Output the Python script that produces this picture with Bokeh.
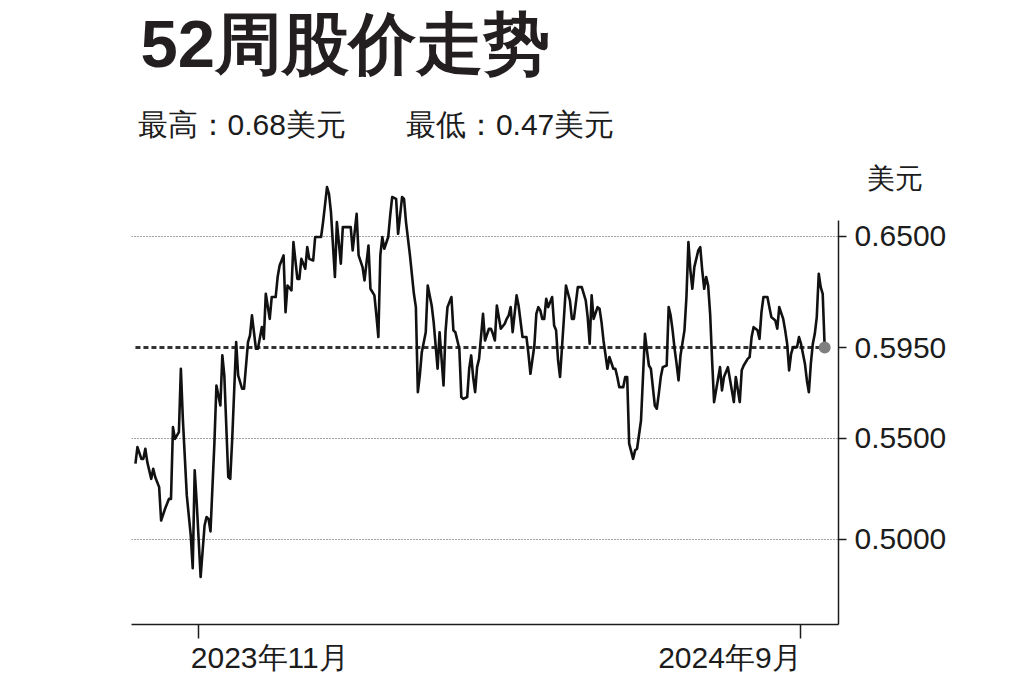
import pandas as pd
from bokeh.plotting import figure
from bokeh.models import Range1d, FixedTicker, NumeralTickFormatter, DatetimeAxis, Title
from bokeh.embed import file_html
from bokeh.resources import INLINE

# 52-week closing prices (day offset from start, USD)
start = pd.Timestamp("2023-09-30")
days = [
    0, 1, 3, 4, 5, 6, 8, 9, 10, 12, 13, 15, 17, 18, 19, 20, 22, 23, 24, 26,
    28, 29, 30, 31, 33, 35, 36, 37, 38, 40, 41, 43, 44, 45, 47, 48, 49, 51, 52, 54,
    55, 57, 58, 59, 61, 62, 64, 65, 66, 68, 69, 71, 72, 73, 75, 76, 77, 79, 80, 82,
    83, 84, 86, 87, 88, 90, 91, 93, 94, 95, 97, 98, 99, 101, 102, 104, 105, 106, 109, 110,
    112, 113, 115, 116, 118, 119, 121, 122, 123, 124, 125, 126, 128, 129, 130, 132, 133, 135, 136, 137,
    139, 141, 142, 143, 144, 145, 147, 148, 150, 151, 153, 154, 156, 157, 158, 160, 161, 162, 164, 165,
    166, 168, 169, 170, 171, 172, 173, 174, 176, 177, 179, 180, 181, 182, 183, 185, 187, 188, 189, 190,
    191, 193, 194, 196, 198, 199, 200, 202, 203, 204, 205, 206, 207, 208, 209, 211, 212, 213, 214, 215,
    217, 218, 220, 221, 222, 224, 226, 228, 229, 230, 231, 232, 234, 235, 236, 237, 239, 240, 242, 243,
    244, 245, 247, 248, 249, 250, 252, 253, 254, 256, 257, 258, 259, 260, 261, 263, 264, 265, 266, 267,
    269, 270, 271, 272, 273, 274, 275, 276, 278, 279, 280, 281, 282, 283, 285, 286, 287, 288, 289, 290,
    291, 292, 293, 295, 296, 297, 298, 300, 301, 303, 304, 306, 307, 308, 310, 311, 312, 313, 315, 316,
    317, 318, 320, 321, 322, 323, 324, 325, 326, 328, 329, 330, 331, 332, 333, 335, 336, 337, 339, 340,
    341, 342, 343, 344, 345, 346, 347, 348, 349,
]
price = [
    0.5375, 0.5457, 0.5399, 0.5399, 0.5449, 0.5383, 0.5300, 0.5350, 0.5309, 0.5259,
    0.5094, 0.5152, 0.5201, 0.5201, 0.5556, 0.5498, 0.5531, 0.5845, 0.5597, 0.5218,
    0.5020, 0.4858, 0.5342, 0.5185, 0.4814, 0.5069, 0.5111, 0.5102, 0.5040, 0.5482,
    0.5762, 0.5663, 0.5911, 0.5812, 0.5309, 0.5300, 0.5498, 0.5977, 0.5812, 0.5746,
    0.5746, 0.5977, 0.6010, 0.6109, 0.5944, 0.5944, 0.6051, 0.5993, 0.6216, 0.6092,
    0.6200, 0.6200, 0.6299, 0.6356, 0.6406, 0.6125, 0.6257, 0.6233, 0.6472, 0.6290,
    0.6290, 0.6389, 0.6340, 0.6447, 0.6389, 0.6381, 0.6497, 0.6497, 0.6497, 0.6571,
    0.6744, 0.6711, 0.6620, 0.6299, 0.6571, 0.6365, 0.6546, 0.6546, 0.6546, 0.6431,
    0.6612, 0.6406, 0.6348, 0.6282, 0.6455, 0.6241, 0.6208, 0.6109, 0.6002, 0.6406,
    0.6497, 0.6439, 0.6497, 0.6604, 0.6695, 0.6686, 0.6513, 0.6695, 0.6686, 0.6571,
    0.6406, 0.6216, 0.6150, 0.5729, 0.5812, 0.5927, 0.6026, 0.6257, 0.6158, 0.6076,
    0.5845, 0.6026, 0.5762, 0.6026, 0.6150, 0.6200, 0.6035, 0.6026, 0.5944, 0.5705,
    0.5696, 0.5705, 0.5845, 0.5911, 0.5804, 0.5729, 0.5853, 0.5894, 0.6117, 0.5985,
    0.6043, 0.6043, 0.6018, 0.5985, 0.6158, 0.6043, 0.6068, 0.6092, 0.6109, 0.6150,
    0.6026, 0.6208, 0.6158, 0.6002, 0.6002, 0.5919, 0.5820, 0.5960, 0.6117, 0.6150,
    0.6134, 0.6092, 0.6092, 0.6191, 0.6150, 0.6200, 0.6059, 0.6035, 0.5886, 0.5804,
    0.6101, 0.6257, 0.6183, 0.6092, 0.6092, 0.6249, 0.6249, 0.6183, 0.6101, 0.5969,
    0.6208, 0.6092, 0.6150, 0.6142, 0.6076, 0.5985, 0.5845, 0.5903, 0.5845, 0.5845,
    0.5804, 0.5754, 0.5754, 0.5804, 0.5804, 0.5474, 0.5399, 0.5441, 0.5449, 0.5589,
    0.5804, 0.6018, 0.5936, 0.5861, 0.5845, 0.5663, 0.5647, 0.5721, 0.5804, 0.5853,
    0.5861, 0.6150, 0.6109, 0.6035, 0.5944, 0.5870, 0.5787, 0.5911, 0.6035, 0.6200,
    0.6472, 0.6332, 0.6241, 0.6348, 0.6431, 0.6447, 0.6332, 0.6241, 0.6299, 0.6257,
    0.6117, 0.5886, 0.5680, 0.5795, 0.5853, 0.5738, 0.5804, 0.5853, 0.5795, 0.5680,
    0.5804, 0.5680, 0.5837, 0.5861, 0.5894, 0.5903, 0.6002, 0.6051, 0.6035, 0.5993,
    0.6125, 0.6200, 0.6200, 0.6150, 0.6101, 0.6092, 0.6084, 0.6043, 0.6150, 0.6092,
    0.6035, 0.5969, 0.5837, 0.5919, 0.5952, 0.5952, 0.6002, 0.5969, 0.5870, 0.5787,
    0.5729, 0.5870, 0.5969, 0.6018, 0.6101, 0.6315, 0.6249, 0.6216, 0.5950,
]
current = 0.595
high, low = 0.68, 0.47
y_ticks = [0.50, 0.55, 0.595, 0.65]
grid_levels = [0.50, 0.55, 0.65]
x_ticks = ["2023-11-01", "2024-09-01"]
x_tick_labels = ["2023年11月", "2024年9月"]
label_shift_days = [36, -36]   # first label sits right of its tick, last one left of it

dates = start + pd.to_timedelta(days, unit="D")
tick_ms = [pd.Timestamp(t).value / 1e6 for t in x_ticks]
label_ms = [t + d * 86400000 for t, d in zip(tick_ms, label_shift_days)]

FONT = "Liberation Sans"
INK = "#1c1c1c"

p = figure(width=1000, height=680, x_axis_type="datetime", y_axis_location="right",
           x_range=Range1d(dates[0] - pd.Timedelta(days=2), dates[-1] + pd.Timedelta(days=7)),
           y_range=Range1d(0.4579, 0.6762),
           min_border_left=131, min_border_right=162, min_border_top=183, min_border_bottom=56,
           output_backend="svg", toolbar_location=None)
p.outline_line_color = None
p.background_fill_color = "white"
p.border_fill_color = "white"
p.xgrid.visible = False

ya = p.yaxis[0]
ya.ticker = FixedTicker(ticks=y_ticks)
ya.formatter = NumeralTickFormatter(format="0.0000")
ya.bounds = (0.4579, 0.658)
ya.axis_line_color = INK
ya.axis_line_width = 1.5
ya.major_tick_line_color = INK
ya.major_tick_line_width = 1.5
ya.major_tick_out = 8
ya.major_tick_in = 0
ya.minor_tick_out = 0
ya.minor_tick_in = 0
ya.major_label_standoff = 8
ya.major_label_text_font = FONT
ya.major_label_text_font_size = "30px"
ya.major_label_text_color = INK

p.ygrid.ticker = FixedTicker(ticks=grid_levels)
p.ygrid.grid_line_color = "#444444"
p.ygrid.grid_line_width = 1
p.ygrid.grid_line_dash = "1 2"

# bottom axis: line and tick marks only
xa = p.xaxis[0]
xa.ticker = FixedTicker(ticks=tick_ms)
xa.major_label_overrides = {t: "" for t in tick_ms}
xa.major_label_text_font_size = "0px"
xa.major_label_standoff = 0
xa.axis_line_color = INK
xa.axis_line_width = 1.5
xa.major_tick_line_color = INK
xa.major_tick_line_width = 1.5
xa.major_tick_out = 14
xa.major_tick_in = 0
xa.minor_tick_out = 0
xa.minor_tick_in = 0

# second bottom axis carrying the month labels beside the ticks
la = DatetimeAxis(ticker=FixedTicker(ticks=label_ms),
                  major_label_overrides=dict(zip(label_ms, x_tick_labels)),
                  axis_line_color=None, major_tick_line_color=None,
                  minor_tick_line_color=None, major_tick_out=0, major_tick_in=0,
                  minor_tick_out=0, minor_tick_in=0, major_label_standoff=2,
                  major_label_text_font=FONT, major_label_text_font_size="30px",
                  major_label_text_color=INK)
p.add_layout(la, "below")

# current price reference line, price line, last point
p.line([dates[0], dates[-1]], [current, current], line_color="#333333",
       line_width=3, line_dash="5 3")
p.line(dates, price, line_color="#111111", line_width=2.6, line_join="round")
p.scatter([dates[-1]], [price[-1]], size=12, fill_color="#7f7f7f", line_color=None)

# main title (outermost), high/low line, unit (closest to the frame)
p.title.text = "52周股价走势"
p.title.offset = 9
p.title.standoff = -11
p.title.text_font = FONT
p.title.text_font_style = "bold"
p.title.text_font_size = "67px"
p.title.text_color = "#231f20"
p.add_layout(Title(text="美元", align="right", offset=-84, standoff=-20,
                   text_font=FONT, text_font_size="28px", text_font_style="normal",
                   text_color=INK), "above")
p.add_layout(Title(text=f"最高：{high:.2f}美元　　最低：{low:.2f}美元", offset=6,
                   standoff=60, text_font=FONT, text_font_size="30px",
                   text_font_style="normal", text_color=INK), "above")

open("out.html", "w").write(file_html(p, INLINE))
